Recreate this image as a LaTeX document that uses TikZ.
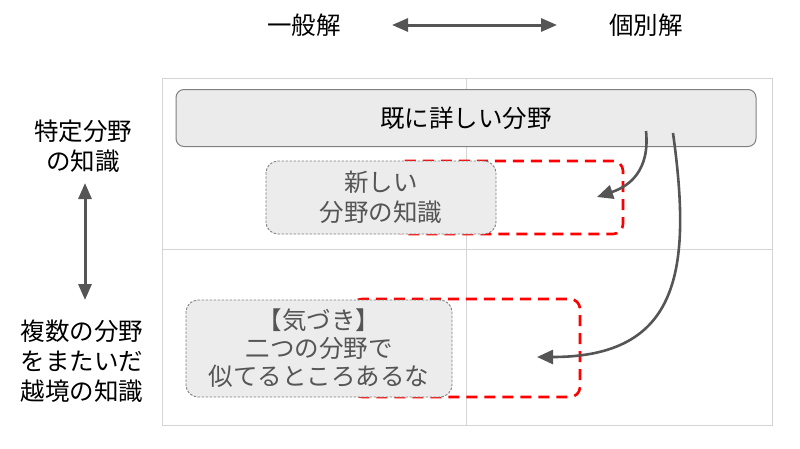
\documentclass[tikz,border=0pt]{standalone}
\usepackage{fontspec}
\setmainfont{Noto Sans CJK JP}
\usetikzlibrary{arrows.meta}
\definecolor{gridc}{HTML}{D4D4D4}
\definecolor{boxfill}{HTML}{EBEBEB}
\definecolor{boxline}{HTML}{808080}
\definecolor{arrc}{HTML}{555555}
\definecolor{txtgray}{HTML}{555555}
\begin{document}
\begin{tikzpicture}[x=1pt,y=-1pt,
  jtext/.style={font=\fontsize{24.5}{30}\selectfont, align=center, inner sep=0pt},
  bigbox/.style={draw=boxline, fill=boxfill, line width=1pt, rounded corners=8pt},
  graybox/.style={draw=boxline, fill=boxfill!95!white, line width=0.9pt, dash pattern=on 2.5pt off 1.5pt, rounded corners=12pt},
  redbox/.style={draw=red, line width=2.6pt, dash pattern=on 11pt off 7pt, rounded corners=10pt},
  conn/.style={draw=arrc, line width=2.6pt, -{Triangle[length=16pt,width=14pt]}},
  biarrow/.style={draw=arrc, line width=3pt, {Triangle[length=16pt,width=13pt]}-{Triangle[length=16pt,width=13pt]}}
]
\useasboundingbox (0,0) rectangle (800,448);
% grid
\draw[gridc, line width=1pt] (162,78) rectangle (772,425);
\draw[gridc, line width=1pt] (466,78) -- (466,425);
\draw[gridc, line width=1pt] (162,249) -- (772,249);
% top labels
\node[jtext] (gen) at (304,25) {一般解};
\node[jtext] (ind) at (646,25) {個別解};
\coordinate (ha) at (392,25);
\coordinate (hb) at (557,25);
\draw[biarrow] (ha) -- (hb);
% left labels
\node[jtext] (spec) at (83,146) {特定分野\\の知識};
\node[jtext] (cross) at (82,361) {複数の分野\\をまたいだ\\越境の知識};
\coordinate (la) at (85,183);
\coordinate (lb) at (85,300);
\draw[biarrow] (la) -- (lb);
% red dashed boxes
\draw[redbox] (395,161) rectangle (623,234);
\draw[redbox] (352,299) rectangle (580,397);
% big box
\node[bigbox, minimum width=580pt, minimum height=57pt] (known) at (466,118) {};
\node[jtext] (knownt) at (466,118) {既に詳しい分野};
% gray boxes
\node[graybox, minimum width=230pt, minimum height=73pt, jtext, text=txtgray] (new) at (381,197.5) {新しい\\分野の知識};
\node[graybox, minimum width=266pt, minimum height=97pt, jtext, text=txtgray, font=\fontsize{24.5}{28}\selectfont] (aware) at (319,348.5) {【気づき】\\二つの分野で\\似てるところあるな};
% connectors
\coordinate (s1) at (646,131);
\coordinate (e1) at (597,197);
\coordinate (s2) at (673,133);
\coordinate (e2) at (537,357);
\draw[conn] (s1) .. controls (650,170) and (630,186) .. (e1);
\draw[conn] (s2) .. controls (692,270) and (680,357) .. (e2);
\end{tikzpicture}
\end{document}
